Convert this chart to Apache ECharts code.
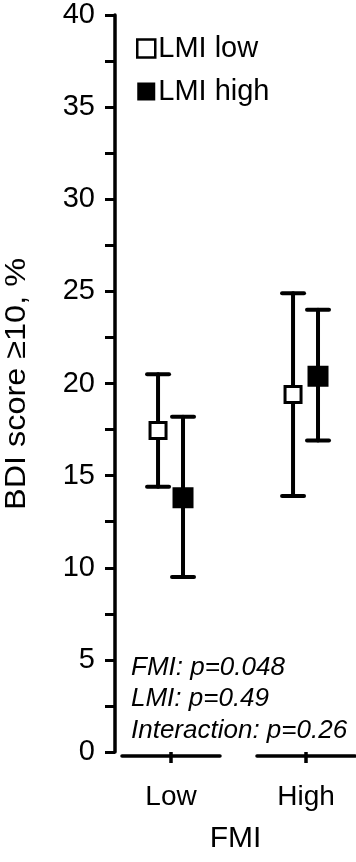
<!DOCTYPE html>
<html><head><meta charset="utf-8">
<script src="https://cdn.jsdelivr.net/npm/echarts@6/dist/echarts.min.js"></script>
<style>html,body{margin:0;padding:0;background:#fff}#c{width:356px;height:862px}</style>
</head><body><div id="c"></div>
<script>
// ---- data ----
var categories = ['Low', 'High'];            // FMI groups
var seriesNames = ['LMI low', 'LMI high'];
var lmiLowMean  = [17.45, 19.4];
var lmiLowLower = [14.4, 13.9];
var lmiLowUpper = [20.5, 24.9];
var lmiHighMean  = [13.8, 20.4];
var lmiHighLower = [9.5, 16.9];
var lmiHighUpper = [18.2, 24.0];
var yMin = 0, yMax = 40, yStep = 5;
var annotations = ['FMI: p=0.048', 'LMI: p=0.49', 'Interaction: p=0.26'];

// ---- layout constants ----
var OFF_LOW = -0.096, OFF_HIGH = 0.089, SEG_HALF = 0.363;
var FONT = "'Liberation Sans', Arial, sans-serif";

var lowPts = categories.map(function (c, i) { return [i + OFF_LOW, lmiLowMean[i]]; });
var highPts = categories.map(function (c, i) { return [i + OFF_HIGH, lmiHighMean[i]]; });
var errData = [];
categories.forEach(function (c, i) {
  errData.push([i + OFF_LOW, lmiLowLower[i], lmiLowUpper[i]]);
  errData.push([i + OFF_HIGH, lmiHighLower[i], lmiHighUpper[i]]);
});

var chart = echarts.init(document.getElementById('c'), null, {renderer: 'canvas'});
chart.setOption({
  animation: false,
  backgroundColor: '#fff',
  grid: {left: 115, right: 0, top: 15, bottom: 110},
  title: {
    text: annotations.join('\n'), left: 131, top: 652, padding: 0,
    textStyle: {fontFamily: FONT, fontStyle: 'italic', fontWeight: 'normal', fontSize: 26, lineHeight: 31.5, color: '#000'}
  },
  legend: {
    orient: 'vertical', left: 136, top: 34, padding: 0, itemWidth: 18, itemHeight: 18, itemGap: 14,
    textStyle: {fontFamily: FONT, fontSize: 29, color: '#000', padding: [0, 0, 0, -2]},
    data: [
      {name: seriesNames[0], icon: 'rect', itemStyle: {color: '#fff', borderColor: '#000', borderWidth: 2.5}},
      {name: seriesNames[1], icon: 'rect', itemStyle: {color: '#000', borderColor: '#000', borderWidth: 0}}
    ]
  },
  graphic: [{
    type: 'text', x: 17, y: 384, rotation: Math.PI / 2, scaleX: 1.08,
    style: {text: 'BDI score ≥10, %', fontFamily: FONT, fontSize: 30, fill: '#000', align: 'center', verticalAlign: 'middle'}
  }],
  xAxis: {
    type: 'value', min: -0.4148, max: 1.3704, offset: 4,
    axisLine: {show: false}, splitLine: {show: false},
    axisTick: {show: true, customValues: [0, 1], length: 11, lineStyle: {color: '#000', width: 3.5}},
    axisLabel: {show: true, customValues: [0, 1], margin: 27, fontFamily: FONT, fontSize: 28, color: '#000',
      formatter: function (v) { return categories[Math.round(v)]; }},
    name: 'FMI', nameLocation: 'middle', nameGap: 68,
    nameTextStyle: {fontFamily: FONT, fontSize: 30, color: '#000'}
  },
  yAxis: {
    type: 'value', min: yMin, max: yMax, interval: yStep,
    axisLine: {show: true, onZero: false, lineStyle: {color: '#000', width: 3.5}},
    axisTick: {show: true, inside: false, length: 10, lineStyle: {color: '#000', width: 3}},
    minorTick: {show: true, splitNumber: 2, length: 10, lineStyle: {color: '#000', width: 3}},
    splitLine: {show: false},
    axisLabel: {margin: 20, fontFamily: FONT, fontSize: 29, color: '#000'}
  },
  series: [
    {
      type: 'custom', name: 'axisSeg', silent: true, clip: false, z: 1,
      data: categories.map(function (c, i) { return [i]; }),
      renderItem: function (params, api) {
        var x = api.value(0);
        var a = api.coord([x - SEG_HALF, 0]);
        var b = api.coord([x + SEG_HALF, 0]);
        return {type: 'line', shape: {x1: a[0], y1: a[1] + 4, x2: b[0], y2: b[1] + 4},
          style: {stroke: '#000', lineWidth: 3.5, lineCap: 'round'}};
      }
    },
    {
      type: 'custom', name: 'err', silent: true, z: 2,
      data: errData,
      renderItem: function (params, api) {
        var x = api.value(0);
        var lo = api.coord([x, api.value(1)]);
        var hi = api.coord([x, api.value(2)]);
        var w = 11;
        var st = {stroke: '#000', lineWidth: 4, lineCap: 'round'};
        return {type: 'group', children: [
          {type: 'line', shape: {x1: lo[0], y1: lo[1], x2: hi[0], y2: hi[1]}, style: st},
          {type: 'line', shape: {x1: lo[0] - w, y1: lo[1], x2: lo[0] + w, y2: lo[1]}, style: st},
          {type: 'line', shape: {x1: hi[0] - w, y1: hi[1], x2: hi[0] + w, y2: hi[1]}, style: st}
        ]};
      }
    },
    {
      type: 'scatter', name: seriesNames[0], symbol: 'rect', symbolSize: 16, z: 5,
      itemStyle: {color: '#fff', borderColor: '#000', borderWidth: 3, opacity: 1},
      data: lowPts
    },
    {
      type: 'scatter', name: seriesNames[1], symbol: 'rect', symbolSize: 18, z: 5,
      itemStyle: {color: '#000', borderColor: '#000', borderWidth: 3, opacity: 1},
      data: highPts
    }
  ]
});
</script></body></html>
